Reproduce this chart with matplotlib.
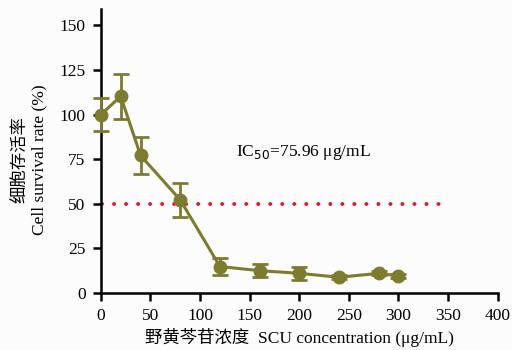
import matplotlib.pyplot as plt
import numpy as np

# SCU concentration (ug/mL) and cell survival rate (%)
conc = [0, 20, 40, 80, 120, 160, 200, 240, 280, 300]
survival = [100, 110.3, 77.1, 52.2, 14.8, 12.5, 11.0, 8.8, 11.0, 9.5]
sd = [9.2, 12.7, 10.2, 9.6, 5.0, 3.5, 3.5, 1.2, 1.2, 1.0]
ic50_x = [1, 350]
ic50_y = [50, 50]

plt.rcParams['font.family'] = ['Liberation Serif', 'Noto Sans CJK SC']
fontsize = 12.5
olive = '#7d7b2f'

fig = plt.figure(figsize=(5.12, 3.5), dpi=100)
ax = fig.add_axes([0.197, 0.163, 0.775, 0.81])

ax.errorbar(conc, survival, yerr=sd, color=olive, lw=2.2, marker='o', ms=9,
            capsize=5.5, capthick=2, elinewidth=2, zorder=3, clip_on=False)
ax.plot(ic50_x, ic50_y, color='#e8141c', ls=(0, (0.01, 3.08)), lw=2.8,
        dash_capstyle='round', zorder=2)
ax.text(136, 78.6, r'IC$_{50}$=75.96 μg/mL', fontsize=fontsize, va='center')

ax.set_xlim(0, 400)
ax.set_ylim(0, 159)
ax.set_xticks(np.arange(0, 401, 50))
ax.set_yticks(np.arange(0, 151, 25))
ax.spines['top'].set_visible(False)
ax.spines['right'].set_visible(False)
ax.spines['left'].set_linewidth(1.8)
ax.spines['bottom'].set_linewidth(1.8)
ax.tick_params(width=1.8, length=6, labelsize=fontsize, pad=5)

ax.set_xlabel('野黄芩苷浓度  SCU concentration (μg/mL)', fontsize=fontsize, labelpad=3)
ax.set_ylabel('细胞存活率\nCell survival rate (%)', fontsize=fontsize, labelpad=4,
              linespacing=1.15)
ax.yaxis.set_label_coords(-0.135, 0.47)

fig.patch.set_facecolor('#fcfcfc')
ax.set_facecolor('#fcfcfc')
fig.savefig('out.png', dpi=100, facecolor=fig.get_facecolor())
